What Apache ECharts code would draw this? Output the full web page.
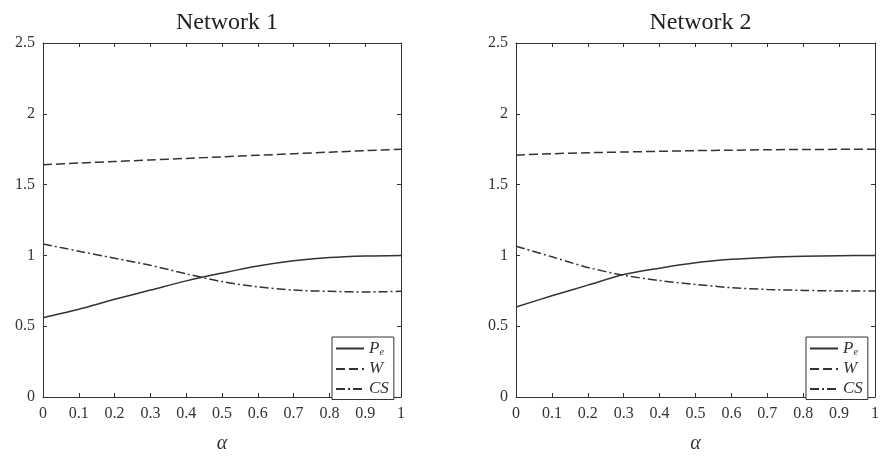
<!DOCTYPE html>
<html><head><meta charset="utf-8">
<script src="https://cdn.jsdelivr.net/npm/echarts@6/dist/echarts.min.js"></script>
<style>html,body{margin:0;padding:0;background:#fff}#c{width:885px;height:459px}</style>
</head><body><div id="c"></div>
<script>
const alpha = [0, 0.1, 0.2, 0.3, 0.4, 0.5, 0.6, 0.7, 0.8, 0.9, 1];
const xTicks = ['0','0.1','0.2','0.3','0.4','0.5','0.6','0.7','0.8','0.9','1'];
const yTicks = ['0','0.5','1','1.5','2','2.5'];
const titles = ['Network 1', 'Network 2'];
const net1Pe = [0.56, 0.62, 0.69, 0.755, 0.82, 0.875, 0.925, 0.962, 0.985, 0.996, 1.0];
const net1W  = [1.64, 1.652, 1.663, 1.674, 1.685, 1.696, 1.707, 1.718, 1.729, 1.74, 1.75];
const net1CS = [1.08, 1.03, 0.98, 0.93, 0.87, 0.815, 0.778, 0.755, 0.746, 0.742, 0.746];
const net2Pe = [0.635, 0.715, 0.79, 0.865, 0.91, 0.948, 0.972, 0.986, 0.994, 0.998, 1.0];
const net2W  = [1.708, 1.718, 1.725, 1.73, 1.735, 1.74, 1.743, 1.746, 1.748, 1.749, 1.75];
const net2CS = [1.065, 0.99, 0.915, 0.86, 0.822, 0.795, 0.772, 0.76, 0.753, 0.749, 0.748];

const nets = [[net1Pe, net1W, net1CS], [net2Pe, net2W, net2CS]];
const names = ['Pe', 'W', 'CS'];
const dashes = ['solid', [9, 4], [9, 3, 2, 3]];
const FONT = 'Liberation Serif';
const INK = '#333';
const grids = [{left: 43, top: 43, width: 358, height: 362}, {left: 516, top: 43, width: 359, height: 362}];

const xAxes = [], yAxes = [], series = [], title = [], legend = [];
grids.forEach((g, i) => {
  const tick = {show: true, inside: true, length: 4, lineStyle: {color: INK}};
  const line = {show: true, onZero: false, lineStyle: {color: INK, width: 1}};
  xAxes.push({gridIndex: i, type: 'value', min: 0, max: 1, interval: 0.1, position: 'bottom',
    axisLine: line, axisTick: tick, splitLine: {show: false},
    axisLabel: {margin: 9, color: INK, fontFamily: FONT, fontSize: 16, formatter: (v) => xTicks[Math.round(v * 10)]},
    name: 'α', nameLocation: 'middle', nameGap: 37,
    nameTextStyle: {fontFamily: FONT, fontStyle: 'italic', fontSize: 20, color: INK}});
  xAxes.push({gridIndex: i, type: 'value', min: 0, max: 1, interval: 0.1, position: 'top',
    axisLine: line, axisTick: tick, splitLine: {show: false}, axisLabel: {show: false}});
  yAxes.push({gridIndex: i, type: 'value', min: 0, max: 2.5, interval: 0.5, position: 'left',
    axisLine: line, axisTick: tick, splitLine: {show: false},
    axisLabel: {margin: 8, color: INK, fontFamily: FONT, fontSize: 16, formatter: (v) => yTicks[Math.round(v * 2)]}});
  yAxes.push({gridIndex: i, type: 'value', min: 0, max: 2.5, interval: 0.5, position: 'right',
    axisLine: line, axisTick: tick, splitLine: {show: false}, axisLabel: {show: false}});
  title.push({text: titles[i], left: g.left + g.width / 2, top: 6, textAlign: 'center',
    textStyle: {fontFamily: FONT, fontWeight: 'normal', fontSize: 24, color: '#222'}});
  nets[i].forEach((vals, k) => {
    series.push({name: names[k], type: 'line', xAxisIndex: i * 2, yAxisIndex: i * 2,
      data: alpha.map((a, j) => [a, vals[j]]), smooth: 0.3, symbol: 'none', showSymbol: false,
      lineStyle: {color: '#333', width: 1.5, type: dashes[k]}, itemStyle: {color: '#333'},
      silent: true, animation: false});
  });
  legend.push({show: true, orient: 'vertical', left: g.left + g.width - 69, top: 337,
    itemWidth: 28, itemHeight: 14, itemGap: 3, padding: [3, 5, 2, 3],
    borderColor: INK, borderWidth: 1, backgroundColor: '#fff',
    itemStyle: {color: 'rgba(0,0,0,0)', borderWidth: 0, opacity: 0},
    data: names.map(n => ({name: n})),
    formatter: function (n) { return n === 'Pe' ? '{i|P}{s|e}' : '{i|' + n + '}'; },
    textStyle: {color: INK, fontFamily: FONT, fontSize: 17,
      rich: {i: {fontFamily: FONT, fontStyle: 'italic', fontSize: 17, color: INK},
             s: {fontFamily: FONT, fontStyle: 'italic', fontSize: 10, color: INK, verticalAlign: 'bottom', padding: [8, 0, 0, 0]}}}});
});

const chart = echarts.init(document.getElementById('c'), null, {renderer: 'canvas'});
chart.setOption({animation: false, backgroundColor: '#fff', title, legend, grid: grids,
  xAxis: xAxes, yAxis: yAxes, series});
</script></body></html>
